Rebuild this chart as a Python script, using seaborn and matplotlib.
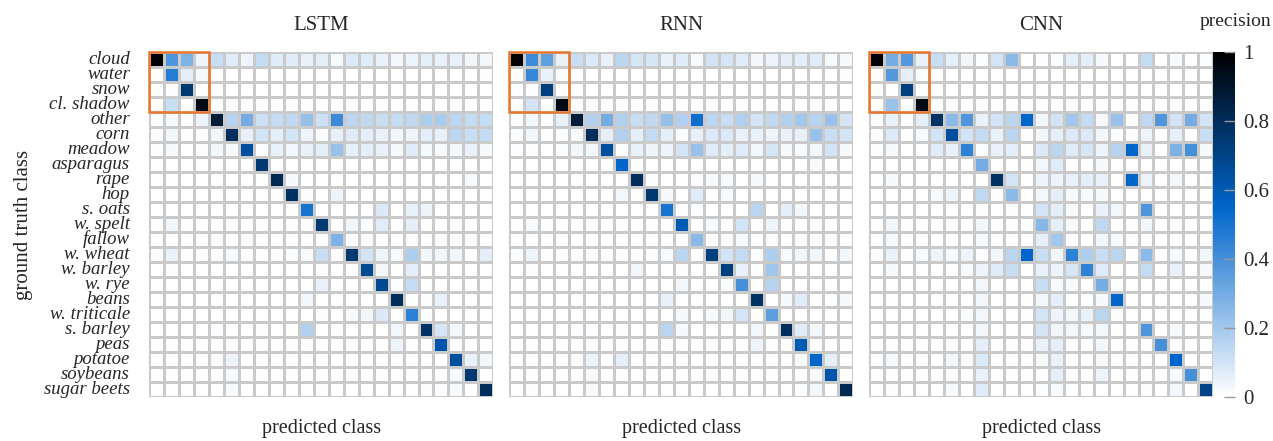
import numpy as np
import matplotlib
matplotlib.use("Agg")
import matplotlib.pyplot as plt
import seaborn as sns
from matplotlib.colors import LinearSegmentedColormap
from matplotlib.patches import Rectangle

# ---------- data ----------
classes = ["cloud", "water", "snow", "cl. shadow", "other", "corn", "meadow",
           "asparagus", "rape", "hop", "s. oats", "w. spelt", "fallow",
           "w. wheat", "w. barley", "w. rye", "beans", "w. triticale",
           "s. barley", "peas", "potatoe", "soybeans", "sugar beets"]

model_names = ["LSTM", "RNN", "CNN"]

lstm_prec = [
    [1.00,0.38,0.28,0.04,0.12,0.07,0.04,0.13,0.07,0.07,0.05,0.06,0.02,0.08,0.07,0.05,0.03,0.04,0.06,0.05,0.05,0.03,0.03],
    [0,0.47,0.06,0.02,0,0,0,0,0,0,0,0,0,0,0,0,0,0,0,0,0,0,0.01],
    [0.01,0.01,0.75,0,0,0,0,0,0,0,0,0,0,0,0,0,0,0,0,0,0,0,0],
    [0,0.12,0,0.95,0.01,0.01,0.01,0.01,0.01,0.01,0,0,0,0,0,0,0,0,0,0,0,0,0],
    [0.01,0.02,0,0.04,0.88,0.16,0.30,0.11,0.13,0.14,0.23,0.11,0.42,0.15,0.14,0.12,0.13,0.14,0.18,0.19,0.15,0.13,0.13],
    [0.01,0.03,0,0.01,0.03,0.80,0.05,0.10,0.06,0.10,0.04,0.01,0.05,0.07,0.06,0.05,0.03,0.04,0.06,0.05,0.15,0.12,0.13],
    [0.01,0.02,0,0.01,0.03,0.02,0.65,0.01,0.05,0.03,0.05,0.06,0.22,0.06,0.06,0.05,0.02,0.07,0.02,0.02,0.03,0.05,0.02],
    [0,0,0,0,0,0,0,0.75,0,0,0,0,0,0,0,0,0,0,0,0,0.01,0,0],
    [0,0,0,0,0,0,0,0,0.82,0.02,0,0,0,0,0,0,0,0,0,0,0,0.02,0],
    [0,0,0,0,0,0.01,0,0,0,0.78,0.01,0,0.04,0,0,0,0,0,0,0,0,0,0],
    [0,0,0,0,0,0.01,0,0,0,0,0.50,0,0,0,0,0.08,0,0.05,0.04,0,0,0,0],
    [0,0.03,0,0,0,0,0,0,0,0,0,0.75,0,0.03,0.01,0.07,0,0.06,0,0,0,0,0],
    [0,0,0,0,0.01,0,0.01,0,0,0,0,0,0.28,0.01,0.01,0.01,0,0.01,0,0.01,0.01,0.01,0],
    [0.01,0.05,0,0.01,0.01,0.02,0.01,0,0.01,0.01,0.02,0.12,0,0.75,0.10,0.04,0.02,0.18,0.03,0.03,0.03,0,0.06],
    [0,0.01,0,0,0,0,0,0,0,0,0,0.01,0,0.01,0.68,0.03,0,0.06,0,0,0,0,0],
    [0,0,0,0,0,0,0,0,0,0,0,0.05,0,0.01,0,0.68,0,0.13,0,0,0,0,0],
    [0,0,0,0,0,0,0,0,0,0,0.03,0,0,0,0,0,0.80,0,0.01,0.05,0,0,0],
    [0,0,0,0,0,0,0,0,0,0,0,0.01,0,0.02,0.03,0.08,0,0.45,0,0,0,0,0],
    [0,0,0,0,0.01,0.01,0,0.01,0,0,0.17,0,0.01,0,0,0,0.03,0,0.78,0.09,0.03,0,0],
    [0,0,0,0,0,0,0,0,0,0,0.01,0,0,0,0,0,0.04,0,0,0.62,0,0,0],
    [0,0,0,0,0.01,0.04,0,0.01,0,0,0,0.01,0,0,0,0,0,0,0,0,0.65,0.05,0.03],
    [0,0,0,0,0,0.02,0,0,0,0,0,0,0,0,0,0,0,0,0,0,0.02,0.75,0],
    [0,0,0,0,0,0.02,0,0,0,0,0,0.01,0,0,0,0,0,0,0.01,0.01,0.02,0,0.80],
]

rnn_prec = [
    [1.00,0.42,0.34,0.05,0.12,0.08,0.05,0.15,0.09,0.09,0.05,0.07,0.02,0.10,0.09,0.07,0.03,0.04,0.06,0.06,0.07,0.02,0.02],
    [0,0.43,0.05,0.01,0,0,0,0,0,0,0,0,0,0,0,0,0,0,0,0,0,0,0.01],
    [0.01,0.01,0.72,0,0,0,0,0,0,0,0,0,0,0,0,0,0,0,0,0,0,0,0],
    [0,0.10,0,0.95,0.01,0.01,0.01,0.01,0.01,0.01,0,0,0,0,0,0,0,0,0,0,0,0,0],
    [0.01,0.03,0,0.05,0.88,0.17,0.30,0.17,0.12,0.14,0.23,0.17,0.52,0.15,0.12,0.17,0.10,0.14,0.17,0.20,0.16,0.22,0.10],
    [0.01,0.03,0,0.01,0.02,0.80,0.06,0.17,0.06,0.13,0.06,0.01,0.05,0.08,0.08,0.05,0.05,0.04,0.05,0.05,0.22,0.12,0.10],
    [0.01,0.01,0,0.01,0.03,0.03,0.65,0.01,0.05,0.04,0.04,0.10,0.22,0.07,0.06,0.07,0.03,0.09,0.02,0.02,0.03,0.10,0.02],
    [0,0,0,0,0,0,0,0.55,0,0,0,0,0,0,0,0,0,0,0,0,0.02,0,0],
    [0,0,0,0,0,0,0,0,0.80,0.01,0,0,0.01,0.02,0.02,0,0.02,0,0,0,0,0,0],
    [0,0,0,0,0,0.01,0,0.03,0,0.75,0.02,0,0.07,0.01,0.02,0,0,0,0,0,0,0,0],
    [0,0,0,0,0,0.01,0,0,0,0,0.50,0,0.01,0,0,0,0.15,0,0.06,0.03,0,0,0],
    [0,0.02,0,0,0,0,0,0,0,0,0,0.60,0,0.02,0.01,0.10,0,0.04,0,0,0,0,0],
    [0,0,0,0,0,0,0,0,0,0,0,0.01,0.25,0.01,0.01,0.02,0,0.01,0,0.01,0.01,0.01,0],
    [0.01,0.04,0,0.01,0.01,0.01,0.01,0.01,0.01,0.01,0.02,0.15,0,0.72,0.10,0.13,0.01,0.18,0.02,0.03,0.03,0,0.03],
    [0,0.01,0,0,0,0,0,0,0.03,0,0,0.01,0,0.01,0.72,0.05,0,0.20,0,0,0,0,0],
    [0,0,0,0,0,0,0,0,0,0,0,0.03,0,0,0.01,0.40,0,0.16,0,0,0,0,0],
    [0,0,0,0,0,0,0,0,0,0,0.05,0,0,0,0,0,0.78,0,0.02,0.07,0,0,0.02],
    [0,0,0,0,0,0,0,0,0,0,0,0.02,0,0.02,0.03,0.10,0,0.35,0,0,0,0,0],
    [0,0,0,0,0.01,0.01,0,0.01,0,0,0.15,0.02,0,0,0,0,0.03,0,0.80,0.07,0.03,0,0],
    [0,0,0,0,0,0,0,0,0,0,0.01,0,0,0,0,0,0.04,0,0,0.60,0,0,0],
    [0,0,0,0,0.01,0.04,0,0.06,0,0,0,0,0,0,0,0,0,0,0,0.02,0.55,0.06,0],
    [0,0,0,0,0,0.02,0,0,0,0,0,0,0,0,0,0,0,0,0,0,0.02,0.62,0],
    [0,0.01,0,0,0,0.02,0,0,0,0,0,0,0,0,0,0,0,0,0,0.01,0.03,0,0.82],
]

cnn_prec = [
    [1.00,0.30,0.37,0.05,0.12,0.06,0.03,0.01,0.10,0.25,0,0.01,0.01,0.06,0.06,0.02,0,0,0.13,0,0.02,0,0.01],
    [0,0.37,0.06,0.01,0,0,0,0,0,0,0,0,0,0,0,0,0,0,0,0,0,0,0],
    [0.01,0,0.72,0,0,0,0,0,0,0,0,0,0,0,0,0,0,0,0,0,0,0,0],
    [0,0.22,0,0.95,0.01,0,0,0.01,0,0,0,0,0,0,0,0,0,0,0,0,0,0,0],
    [0.01,0.05,0,0.06,0.78,0.25,0.38,0.05,0.10,0.15,0.55,0.03,0.10,0.20,0.13,0.02,0.22,0,0.14,0.38,0.10,0.30,0.10],
    [0.01,0.08,0,0.02,0.10,0.65,0.10,0.13,0.05,0.15,0,0.03,0.06,0.08,0.08,0.03,0.01,0.01,0.04,0,0.06,0,0.12],
    [0.01,0.02,0,0,0.07,0.05,0.45,0.01,0.05,0.06,0,0.08,0.15,0.07,0.09,0.04,0.16,0.55,0.05,0,0.28,0.40,0.02],
    [0,0,0,0,0,0,0,0.30,0,0,0,0.03,0.07,0,0,0.02,0,0,0,0,0,0,0],
    [0,0.02,0,0,0,0,0,0,0.78,0.10,0,0.04,0.04,0.05,0.06,0.05,0,0.55,0.04,0,0.03,0,0],
    [0,0,0,0,0.02,0.04,0,0.14,0,0.25,0,0.03,0.06,0.02,0.02,0.02,0,0,0,0,0,0,0],
    [0,0,0,0,0,0.01,0,0.01,0,0.01,0,0.10,0.06,0.02,0,0.05,0.03,0,0.38,0,0,0,0],
    [0,0.03,0,0,0,0,0,0.03,0,0,0,0.26,0.06,0.02,0,0.14,0,0,0.03,0,0,0,0],
    [0,0.02,0,0,0,0,0,0.02,0,0,0,0.06,0.20,0,0,0.03,0.02,0,0.01,0,0,0,0],
    [0.01,0.05,0,0.02,0.04,0.02,0.04,0.01,0.03,0.15,0.55,0.12,0.03,0.45,0.18,0.12,0.15,0,0.25,0,0.02,0,0.03],
    [0,0.02,0,0,0,0.01,0.02,0.04,0.07,0.12,0,0.05,0.04,0.09,0.45,0.07,0,0,0.13,0,0.05,0,0.02],
    [0,0,0,0,0,0,0,0.03,0,0,0,0.12,0.02,0.02,0,0.30,0,0,0,0,0,0,0],
    [0,0,0,0,0,0.01,0,0.03,0,0,0,0.03,0.06,0,0,0.02,0.55,0,0,0,0,0,0.02],
    [0,0,0,0,0,0,0.01,0.03,0,0,0,0.10,0.04,0.03,0.05,0.15,0.01,0,0,0,0,0,0],
    [0,0,0,0,0,0.01,0,0.03,0,0,0,0.10,0.03,0.03,0.02,0.03,0,0,0.38,0,0.02,0,0],
    [0,0,0,0,0,0,0,0.06,0,0,0,0.05,0.06,0,0,0.03,0,0,0,0.40,0,0,0],
    [0,0.02,0,0,0,0.03,0.01,0.08,0,0,0,0.02,0.05,0,0,0.02,0,0,0,0,0.55,0,0],
    [0,0,0,0,0,0,0,0.05,0,0,0,0,0.06,0,0,0.04,0,0,0,0,0.02,0.40,0],
    [0,0.01,0,0,0,0.02,0,0.07,0,0,0,0.01,0.02,0,0,0,0,0,0.01,0,0.03,0,0.70],
]

# ---------- style ----------
sns.set_style("white")
plt.rcParams["font.family"] = ["Liberation Serif", "DejaVu Serif"]

cmap = LinearSegmentedColormap.from_list(
    "prec", [(0.0, "#ffffff"), (0.55, "#0066cc"), (1.0, "#000000")])

fig = plt.figure(figsize=(12.73, 4.41), dpi=100)
W, H = 1273.0, 441.0
left_px = [149.3, 509.3, 869.3]
top_px, size_px = 52.5, 344.0
axes = [fig.add_axes([x / W, 1 - (top_px + size_px) / H, size_px / W, size_px / H])
        for x in left_px]
cax = fig.add_axes([1212.5 / W, 1 - (top_px + size_px) / H, 22.5 / W, size_px / H])

mats = [lstm_prec, rnn_prec, cnn_prec]
for i, (ax, mat, name) in enumerate(zip(axes, mats, model_names)):
    sns.heatmap(np.array(mat), ax=ax, cmap=cmap, vmin=0, vmax=1,
                linewidths=0.75, linecolor="#cacaca", square=False,
                cbar=(i == 2), cbar_ax=cax if i == 2 else None,
                xticklabels=False, yticklabels=classes if i == 0 else False)
    ax.set_title(name, fontsize=15, pad=16)
    ax.set_xlabel("predicted class", fontsize=14.5, labelpad=16)
    ax.add_patch(Rectangle((0, 0), 4, 4, fill=False, edgecolor="#e8772e",
                           lw=1.8, clip_on=False, zorder=5))
    ax.tick_params(axis="x", length=0)
    if i == 0:
        ax.tick_params(axis="y", length=7, width=1, color="#aaaaaa",
                       labelsize=13.5, pad=7)
        for lab in ax.get_yticklabels():
            lab.set_fontstyle("italic")
            lab.set_rotation(0)
        ax.set_ylabel("ground truth class", fontsize=15, labelpad=8)
    else:
        ax.tick_params(axis="y", length=0)

cax.set_axisbelow(False)
cax.set_yticks([0, 0.2, 0.4, 0.6, 0.8, 1])
cax.set_yticklabels(["0", "0.2", "0.4", "0.6", "0.8", "1"])
cax.tick_params(direction="in", length=8, width=1, color="#999999",
                labelsize=15, pad=6)
cax.text(1.0, 1.09, "precision", transform=cax.transAxes, ha="center",
         va="center", fontsize=14)
for s in cax.spines.values():
    s.set_visible(False)

fig.savefig("out.png", dpi=100)
